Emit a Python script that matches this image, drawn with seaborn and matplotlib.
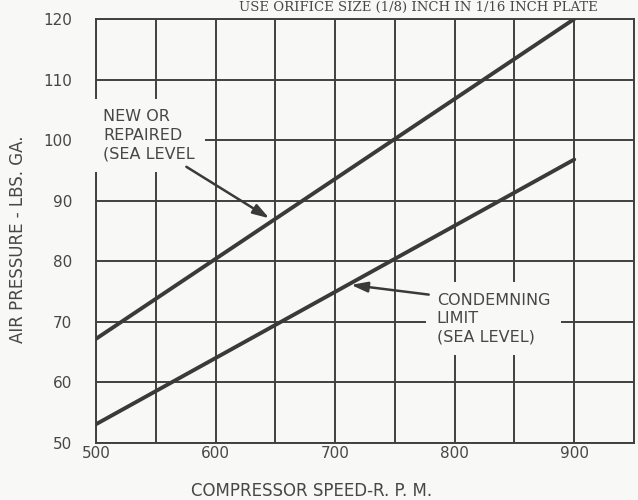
import matplotlib
matplotlib.use("Agg")
import matplotlib.pyplot as plt
import numpy as np
import pandas as pd
import seaborn as sns
from matplotlib.ticker import MultipleLocator

# values
SPEED_RPM = [500, 900]
NEW_OR_REPAIRED = [67.2, 120.0]
CONDEMNING_LIMIT = [53.1, 96.8]

X_TICKS = [500, 600, 700, 800, 900]
Y_TICKS = [50, 60, 70, 80, 90, 100, 110, 120]

INK = "#3a3a3a"
GRID = "#404040"
PAPER = "#f8f8f6"
TEXT = "#474747"


def setup_style() -> None:
    sns.set_theme(style="white")
    plt.rcParams["font.family"] = ["DejaVu Sans"]
    plt.rcParams["figure.dpi"] = 100


def main() -> None:
    setup_style()
    df = pd.DataFrame(
        {
            "speed": SPEED_RPM * 2,
            "pressure": NEW_OR_REPAIRED + CONDEMNING_LIMIT,
            "curve": ["new"] * len(SPEED_RPM) + ["condemn"] * len(SPEED_RPM),
        }
    )

    fig = plt.figure(figsize=(6.38, 5.0), facecolor=PAPER)
    ax = fig.add_axes([96 / 638, 57 / 500, 538 / 638, 424 / 500])
    ax.set_facecolor(PAPER)

    sns.lineplot(
        data=df,
        x="speed",
        y="pressure",
        units="curve",
        estimator=None,
        color=INK,
        linewidth=2.8,
        legend=False,
        ax=ax,
        zorder=4,
    )

    ax.set_xlim(500, 950)
    ax.set_ylim(50, 120)
    ax.set_xticks(X_TICKS)
    ax.set_yticks(Y_TICKS)
    ax.xaxis.set_minor_locator(MultipleLocator(50))
    ax.grid(which="both", axis="x", color=GRID, linewidth=1.4)
    ax.grid(which="major", axis="y", color=GRID, linewidth=1.4)
    for side in ax.spines.values():
        side.set_color(GRID)
        side.set_linewidth(1.4)
    ax.tick_params(which="both", length=0)
    ax.tick_params(axis="x", pad=2, labelsize=11, labelcolor=TEXT)
    ax.tick_params(axis="y", pad=17, labelsize=11, labelcolor=TEXT)

    ax.set_xlabel("COMPRESSOR SPEED-R. P. M.", fontsize=12, color=TEXT)
    ax.xaxis.set_label_coords(0.40, -0.093)
    ax.set_ylabel("AIR PRESSURE - LBS. GA.", fontsize=12, color=TEXT)
    ax.yaxis.set_label_coords(-0.128, 0.48)

    box = dict(boxstyle="square,pad=0.65", facecolor=PAPER, edgecolor="none")
    arrow = dict(arrowstyle="-|>,head_length=0.7,head_width=0.22", color=INK,
                 lw=1.8, mutation_scale=14, shrinkA=0, shrinkB=0)

    ax.text(506, 100.8, "NEW OR\nREPAIRED\n(SEA LEVEL", ha="left", va="center",
            fontsize=11.5, color=TEXT, linespacing=1.3, bbox=box, zorder=3)
    ax.annotate("", xy=(645, 87.1), xytext=(575.6, 95.6), arrowprops=arrow, zorder=5)

    ax.text(785, 70.5, "CONDEMNING\nLIMIT\n(SEA LEVEL)", ha="left", va="center",
            fontsize=11.5, color=TEXT, linespacing=1.3, bbox=box, zorder=3)
    ax.annotate("", xy=(713.3, 76.1), xytext=(778.3, 74.5), arrowprops=arrow, zorder=5)

    # caption above the chart (only its lower part survives in the scan)
    fig.text(0.655, 0.999, "USE ORIFICE SIZE (1/8) INCH IN 1/16 INCH PLATE",
             ha="center", va="top", fontsize=9.5, color=TEXT,
             family=["DejaVu Serif"])

    fig.savefig("out.png", dpi=100, facecolor=PAPER)
    plt.close(fig)


if __name__ == "__main__":
    main()
